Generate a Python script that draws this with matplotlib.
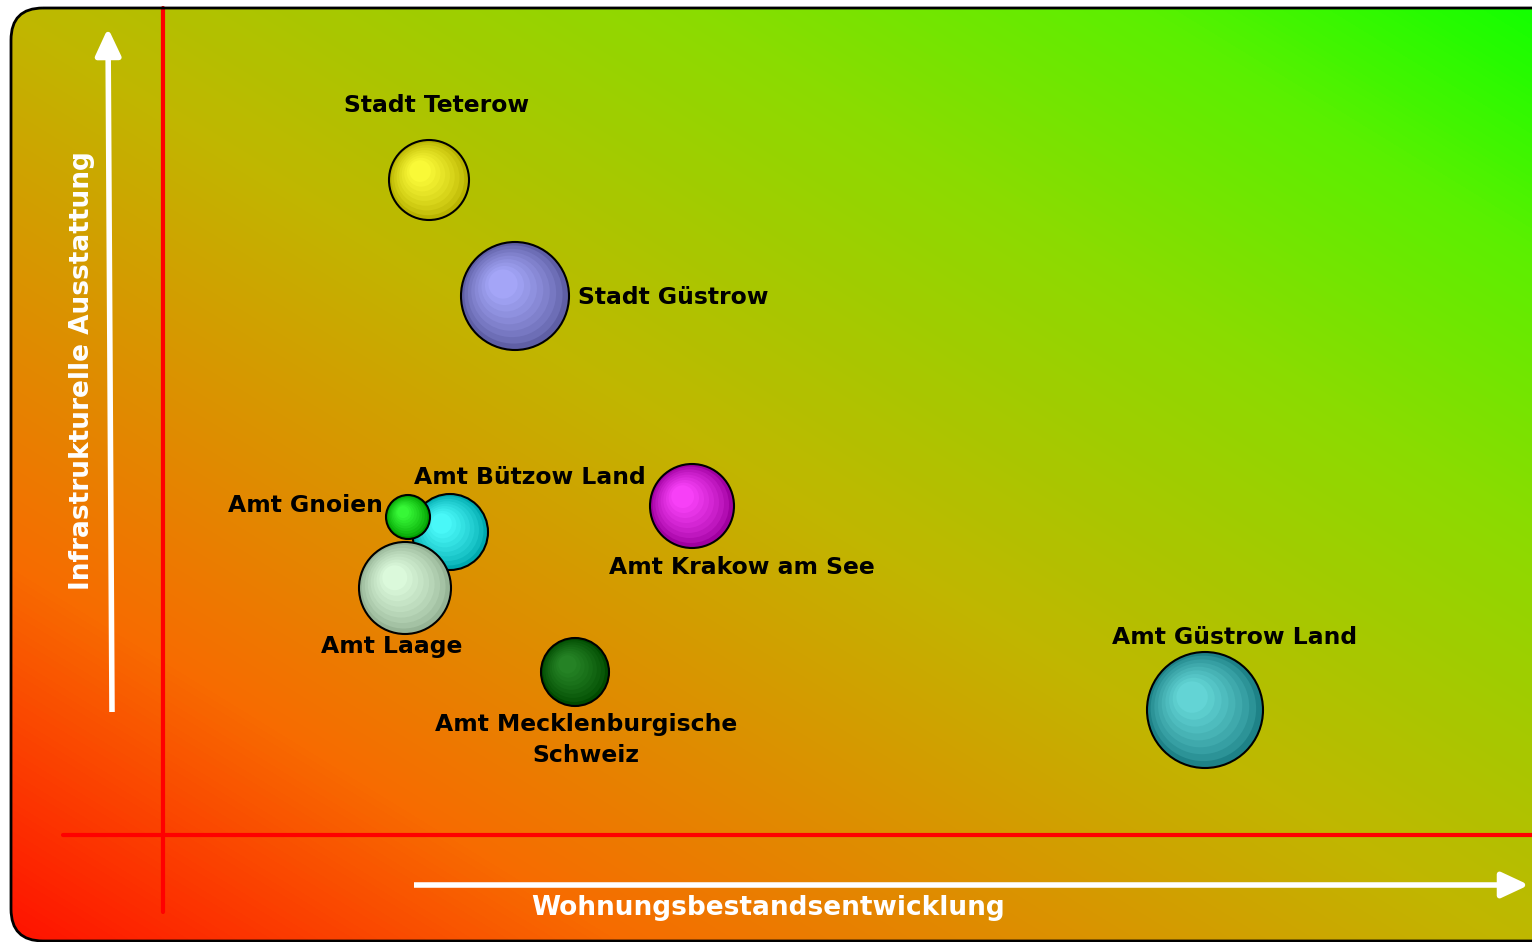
import matplotlib
matplotlib.use("Agg")
import matplotlib.pyplot as plt
import numpy as np
from matplotlib.colors import LinearSegmentedColormap
from matplotlib.patches import Circle, FancyBboxPatch

# bubble data (position in chart units, radius, colours)
names = ["Stadt Teterow", "Stadt Güstrow", "Amt Bützow Land", "Amt Gnoien",
         "Amt Laage", "Amt Krakow am See", "Amt Mecklenburgische\nSchweiz",
         "Amt Güstrow Land"]
x_vals = [429, 515, 450, 408, 405, 692, 575, 1205]
y_vals = [180, 296, 532, 517, 588, 506, 672, 710]
sizes = [40, 54, 38, 22, 46, 42, 34, 58]
outer_cols = [(185, 180, 0), (95, 95, 165), (0, 170, 175), (0, 160, 0),
              (150, 180, 150), (160, 0, 160), (0, 75, 0), (30, 130, 135)]
inner_cols = [(255, 255, 60), (170, 172, 255), (80, 255, 255), (60, 255, 60),
              (225, 255, 225), (255, 70, 255), (40, 135, 40), (105, 220, 220)]

# label positions and alignment
label_x = [437, 578, 530, 383, 392, 742, 586, 1235]
label_y = [105, 298, 477, 505, 647, 567, 740, 637]
label_ha = ["center", "left", "center", "right", "center", "center", "center", "center"]

x_title = "Wohnungsbestandsentwicklung"
y_title = "Infrastrukturelle Ausstattung"

W, H = 1532, 942
fig = plt.figure(figsize=(W / 100, H / 100), dpi=100)
ax = fig.add_axes([0, 0, 1, 1])
ax.set_xlim(0, W)
ax.set_ylim(H, 0)
ax.axis("off")

# background box with diagonal gradient
box = FancyBboxPatch((11, 8), 1600, 933, boxstyle="round,pad=0,rounding_size=32",
                     facecolor="none", edgecolor="black", lw=2, zorder=3)
grad = LinearSegmentedColormap.from_list("bg", [
    (0.0, (1.0, 0.07, 0.0)),
    (0.2, (0.97, 0.42, 0.0)),
    (0.5, (0.75, 0.72, 0.0)),
    (0.72, (0.55, 0.86, 0.0)),
    (0.87, (0.36, 0.94, 0.0)),
    (1.0, (0.08, 1.0, 0.0))])
gx = np.linspace(0, 1, 400)
gy = np.linspace(0, 1, 300)
GX, GY = np.meshgrid(gx, gy)
T = (GX + (1 - GY)) / 2
im = ax.imshow(T, cmap=grad, extent=(11, W, H, 8), origin="upper",
               aspect="auto", zorder=0, interpolation="bilinear")
ax.add_patch(box)
im.set_clip_path(box)

# red axis lines
ax.plot([163, 163], [8, 912], color="red", lw=3, solid_capstyle="round", zorder=1)
ax.plot([63, W], [835, 835], color="red", lw=3, solid_capstyle="round", zorder=1)

# white arrows
ax.annotate("", xy=(108, 28), xytext=(112, 712),
            arrowprops=dict(arrowstyle="-|>,head_length=0.75,head_width=0.35",
                            color="white", lw=4, mutation_scale=22, shrinkA=0, shrinkB=0,
                            capstyle="butt"),
            zorder=2)
ax.annotate("", xy=(1529, 885), xytext=(414, 885),
            arrowprops=dict(arrowstyle="-|>,head_length=0.75,head_width=0.35",
                            color="white", lw=4, mutation_scale=22, shrinkA=0, shrinkB=0,
                            capstyle="butt"),
            zorder=2)

ax.text(768, 908, x_title, color="white", fontsize=19, fontweight="bold",
        ha="center", va="center", zorder=4)
ax.text(82, 371, y_title, color="white", fontsize=19, fontweight="bold",
        ha="center", va="center", rotation=90, zorder=4)

# shaded bubbles
n_rings = 9
for i in range(len(names)):
    cx, cy, r = x_vals[i], y_vals[i], sizes[i]
    oc = np.array(outer_cols[i]) / 255
    ic = np.array(inner_cols[i]) / 255
    z = 5 + i * 0.1
    for k in range(n_rings):
        f = k / n_rings
        rr = r * (1 - 0.82 * f)
        ox = cx - 0.25 * r * f
        oy = cy - 0.25 * r * f
        fc = f ** 0.75
        col = oc + (ic - oc) * fc
        ax.add_patch(Circle((ox, oy), rr, facecolor=col, edgecolor="none", zorder=z))
    ax.add_patch(Circle((cx, cy), r, facecolor="none", edgecolor="black", lw=1.5,
                        zorder=z + 0.05))

for i in range(len(names)):
    ax.text(label_x[i], label_y[i], names[i], fontsize=16.9, fontweight="bold",
            ha=label_ha[i], va="center", color="black", linespacing=1.4, zorder=10)

fig.savefig("out.png", dpi=100)
